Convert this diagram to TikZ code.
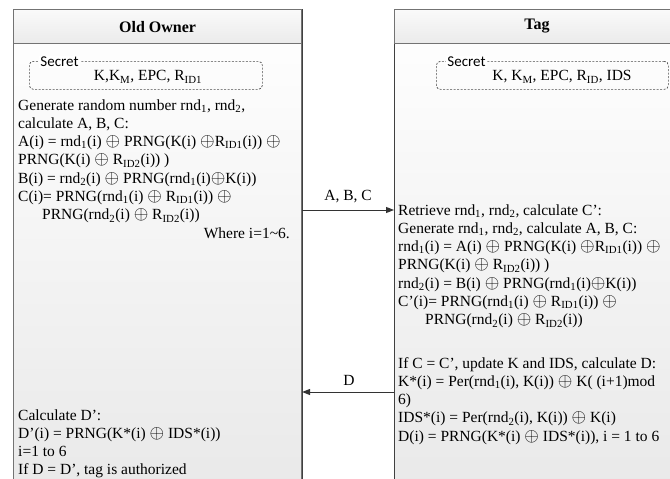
\documentclass[tikz,border=0pt]{standalone}
\usepackage{fontspec}
\setmainfont{Liberation Serif}
\newfontfamily\secfont{Carlito}
\usetikzlibrary{arrows.meta}
\newcommand{\sbs}[1]{\textsubscript{#1}}
\newcommand{\xo}{\smash{\scalebox{1.3}{$\oplus$}}}
\begin{document}
\begin{tikzpicture}[x=1pt,y=-1pt,
  txt/.style={inner sep=0pt, anchor=base west, font=\fontsize{15.5}{18.3}\selectfont},
  txte/.style={txt, anchor=base east},
  lane/.style={draw=black!55, line width=1.1pt, top color=white, bottom color=black!9, minimum height=500pt, inner sep=0pt},
  lanehead/.style={draw=black!55, line width=1.1pt, top color=black!2, bottom color=black!8, minimum height=34pt, inner sep=0pt, font=\fontsize{16}{18}\selectfont\bfseries},
  secbox/.style={draw=black!70, dash pattern=on 2pt off 1.5pt, line width=0.7pt, rounded corners=4pt, minimum height=28pt, inner sep=0pt},
  seclabel/.style={fill=white, inner sep=1.2pt, anchor=west, font=\secfont\fontsize{15}{17}\selectfont},
  sectxt/.style={inner sep=0pt, font=\fontsize{15.5}{18}\selectfont},
  arr/.style={draw=black!80, line width=1pt, -{Triangle[length=8pt,width=6pt]}},
  lbl/.style={inner sep=0pt, font=\fontsize{15.5}{18}\selectfont}
]
\useasboundingbox (0,0) rectangle (670,479);

% lanes
\node[lane, minimum width=288pt, anchor=north west] (own) at (13,9) {};
\node[lane, minimum width=290pt, anchor=north west] (tag) at (394,9) {};
\draw[black!75, line width=1pt] (own.north east) -- (own.south east);
\draw[black!75, line width=1pt] (tag.north west) -- (tag.south west);
\node[lanehead, minimum width=288pt, anchor=north west] (ownh) at (13,9) {Old Owner};
\node[lanehead, minimum width=290pt, anchor=north west] (tagh) at (394,9) {};
\node[inner sep=0pt, font=\fontsize{16}{18}\selectfont\bfseries] (tagt) at (537,26) {Tag};

% secrets
\node[secbox, minimum width=233pt, anchor=north west] (ls) at (29,61) {};
\node[seclabel] (lsl) at (39,62) {Secret};
\node[sectxt] (lst) at (148,77) {K,K\sbs{M}, EPC, R\sbs{ID1}};
\node[secbox, minimum width=232pt, anchor=north west] (rs) at (436,61) {};
\node[seclabel] (rsl) at (446,62) {Secret};
\node[sectxt] (rst) at (562,77) {K, K\sbs{M}, EPC, R\sbs{ID}, IDS};

% left text
\node[txt] (l1) at (18,110) {Generate random number rnd\sbs{1}, rnd\sbs{2},};
\node[txt] (l2) at (18,128.3) {calculate A, B, C:};
\node[txt] (l3) at (18,146.6) {A(i) = rnd\sbs{1}(i) \xo{} PRNG(K(i) \xo R\sbs{ID1}(i)) \xo};
\node[txt] (l4) at (18,164.9) {PRNG(K(i) \xo{} R\sbs{ID2}(i)) )};
\node[txt] (l5) at (18,183.2) {B(i) = rnd\sbs{2}(i) \xo{} PRNG(rnd\sbs{1}(i)\xo K(i))};
\node[txt] (l6) at (18,201.5) {C(i)= PRNG(rnd\sbs{1}(i) \xo{} R\sbs{ID1}(i)) \xo};
\node[txt] (l7) at (42,219.8) {PRNG(rnd\sbs{2}(i) \xo{} R\sbs{ID2}(i))};
\node[txte] (l8) at (290,238.1) {Where i=1\textasciitilde6.};

\node[txt] (b1) at (18,420) {Calculate D’:};
\node[txt] (b2) at (18,438) {D’(i) = PRNG(K*(i) \xo{} IDS*(i))};
\node[txt] (b3) at (18,456) {i=1 to 6};
\node[txt] (b4) at (18,474) {If D = D’, tag is authorized};

% right text
\node[txt] (r1) at (398,215) {Retrieve rnd\sbs{1}, rnd\sbs{2}, calculate C’:};
\node[txt] (r2) at (398,233.3) {Generate rnd\sbs{1}, rnd\sbs{2}, calculate A, B, C:};
\node[txt] (r3) at (398,251.6) {rnd\sbs{1}(i) = A(i) \xo{} PRNG(K(i) \xo R\sbs{ID1}(i)) \xo};
\node[txt] (r4) at (398,269.9) {PRNG(K(i) \xo{} R\sbs{ID2}(i)) )};
\node[txt] (r5) at (398,288.2) {rnd\sbs{2}(i) = B(i) \xo{} PRNG(rnd\sbs{1}(i)\xo K(i))};
\node[txt] (r6) at (398,306.5) {C’(i)= PRNG(rnd\sbs{1}(i) \xo{} R\sbs{ID1}(i)) \xo};
\node[txt] (r7) at (425,324.8) {PRNG(rnd\sbs{2}(i) \xo{} R\sbs{ID2}(i))};
\node[txt] (r8) at (398,368) {If C = C’, update K and IDS, calculate D:};
\node[txt] (r9) at (398,386.3) {K*(i) = Per(rnd\sbs{1}(i), K(i)) \xo{} K( (i+1)mod};
\node[txt] (r10) at (398,404.6) {6)};
\node[txt] (r11) at (398,422.9) {IDS*(i) = Per(rnd\sbs{2}(i), K(i)) \xo{} K(i)};
\node[txt] (r12) at (398,441.2) {D(i) = PRNG(K*(i) \xo{} IDS*(i)), i = 1 to 6};

% messages
\coordinate (m1) at (0,210);
\coordinate (m2) at (0,392);
\draw[arr] (own.east |- m1) -- (tag.west |- m1);
\node[lbl] (abc) at (348,197) {A, B, C};
\draw[arr] (tag.west |- m2) -- (own.east |- m2);
\node[lbl] (dl) at (349,380) {D};
\end{tikzpicture}
\end{document}
